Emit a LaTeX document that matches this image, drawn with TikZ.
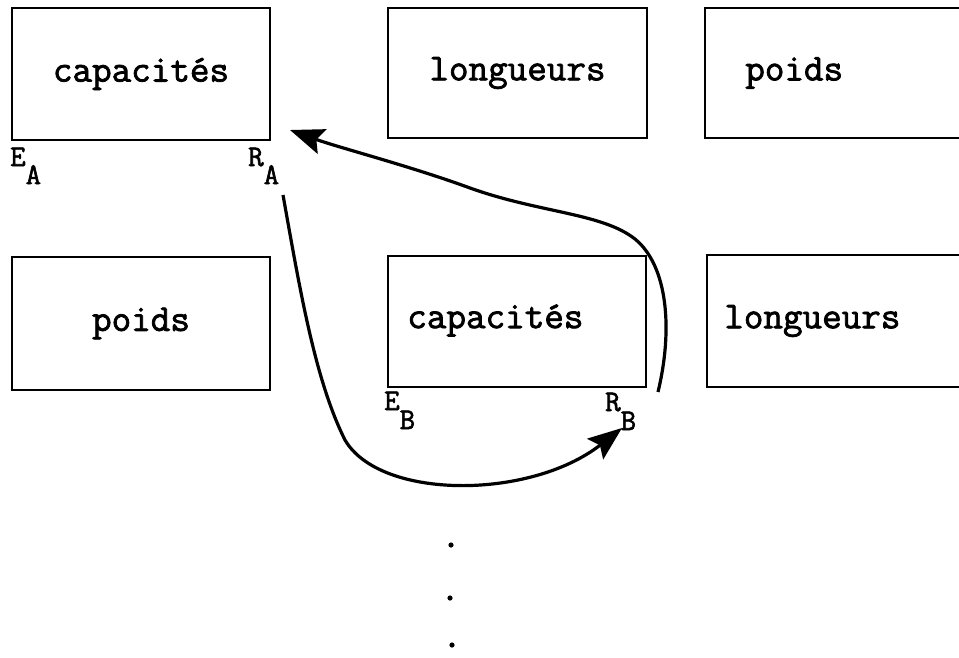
\documentclass[tikz,border=0pt]{standalone}
\usepackage{fontspec}
\newfontfamily\tw[FakeBold=2]{Latin Modern Mono}
\usetikzlibrary{arrows.meta}
\begin{document}
\begin{tikzpicture}[x=1pt,y=-1pt,
  box/.style={draw, line width=1.8pt, minimum width=#1, inner sep=0pt},
  box/.default=258pt,
  txt/.style={font=\tw\fontsize{38}{44}\selectfont, inner sep=0pt},
  lab/.style={font=\tw\fontsize{30}{36}\selectfont, inner sep=0pt, anchor=base west},
  arr/.style={line width=3.2pt, -{Stealth[length=34pt,width=26pt,inset=6pt]}}]
\useasboundingbox (0,0) rectangle (959,657);
% top row
\node[box=258pt, minimum height=132pt, txt] (b1) at (141,74) {capacités};
\node[box=259pt, minimum height=130pt, txt] (b2) at (517.5,73) {longueurs};
\node[box=260pt, minimum height=130pt] (b3) at (835,73) {};
\node[txt, anchor=west] (t3) at ([xshift=41pt]b3.west) {poids};
% bottom row
\node[box=258pt, minimum height=133pt, txt] (b4) at (141,323.5) {poids};
\node[box=258pt, minimum height=131pt] (b5) at (517,321.5) {};
\node[txt, anchor=west] (t5) at ([xshift=20pt, yshift=1pt]b5.west) {capacités};
\node[box=260pt, minimum height=132pt] (b6) at (837,321) {};
\node[txt, anchor=west] (t6) at ([xshift=18pt]b6.west) {longueurs};
% labels
\node[lab] (ea) at (10,166) {E\raisebox{-18pt}{A}};
\node[lab] (ra) at (248,166) {R\raisebox{-18pt}{A}};
\node[lab] (eb) at (384,410) {E\raisebox{-19pt}{B}};
\node[lab] (rb) at (605,411) {R\raisebox{-19pt}{B}};
% arrow ends
\coordinate (a1s) at (283,195);
\coordinate (a1e) at (622,428);
\coordinate (a2s) at (658,392);
\coordinate (a2e) at (290,130);
\draw[arr] (a1s) .. controls (300,290) and (315,380) .. (345,440)
  .. controls (380,500) and (530,500) .. (a1e);
\draw[arr] (a2s) .. controls (673,330) and (668,266) .. (635,239)
  .. controls (602,213) and (540,213) .. (470,188)
  .. controls (410,166) and (340,148) .. (a2e);
% vertical ellipsis
\fill (451,545) circle (2.6pt);
\fill (450,598) circle (2.6pt);
\fill (452,645) circle (2.6pt);
\end{tikzpicture}
\end{document}
